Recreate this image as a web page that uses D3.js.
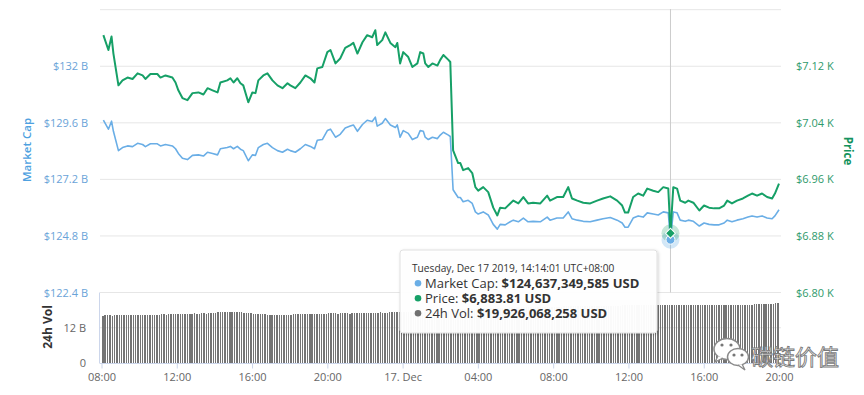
<!DOCTYPE html>
<html>
<head>
<meta charset="utf-8">
<script src="https://cdn.jsdelivr.net/npm/d3@7"></script>
<style>
  body { margin: 0; background: #fff; }
  svg { display: block; font-family: "Open Sans", "DejaVu Sans", sans-serif; }
</style>
</head>
<body>
<div id="chart"></div>
<script>
// minutes after Dec 16 2019, 08:00 (UTC+8)
const mins = [
  6, 22, 32, 38, 54, 67, 83, 99, 115, 131,
  140, 156, 178, 188, 204, 226, 236, 245, 258, 274,
  290, 309, 325, 338, 354, 370, 379, 401, 411, 421,
  433, 443, 452, 468, 481, 491, 500, 516, 529, 545,
  561, 577, 593, 602, 618, 634, 650, 666, 679, 688,
  704, 720, 730, 746, 761, 777, 793, 803, 816, 832,
  847, 863, 873, 879, 895, 905, 921, 937, 943, 952,
  962, 978, 991, 1007, 1016, 1026, 1032, 1042, 1055, 1071,
  1080, 1090, 1106, 1112, 1121, 1137, 1144, 1153, 1169, 1182,
  1192, 1201, 1217, 1233, 1249, 1262, 1271, 1287, 1303, 1313,
  1329, 1345, 1360, 1376, 1399, 1421, 1430, 1452, 1472, 1488,
  1500, 1517, 1536, 1558, 1580, 1599, 1622, 1644, 1660, 1669,
  1679, 1695, 1711, 1727, 1740, 1759, 1775, 1791, 1807, 1814,
  1823, 1835, 1845, 1861, 1871, 1887, 1906, 1921, 1937, 1953,
  1969, 1985, 1995, 2010, 2026, 2045, 2061, 2074, 2090, 2106,
  2122, 2138, 2147, 2160
];

// price, USD
const prices = [
  7164, 7143, 7162, 7138, 7093, 7100, 7104, 7102, 7110, 7107,
  7102, 7109, 7109, 7104, 7107, 7104, 7097, 7086, 7075, 7072,
  7082, 7083, 7080, 7089, 7086, 7083, 7097, 7100, 7103, 7097,
  7103, 7096, 7093, 7069, 7083, 7082, 7100, 7107, 7110, 7100,
  7093, 7089, 7096, 7093, 7089, 7097, 7107, 7103, 7097, 7117,
  7119, 7140, 7143, 7124, 7131, 7146, 7150, 7153, 7138, 7154,
  7164, 7161, 7171, 7150, 7157, 7168, 7153, 7147, 7153, 7124,
  7140, 7133, 7119, 7124, 7140, 7138, 7124, 7119, 7124, 7121,
  7129, 7136, 7129, 7126, 7001, 6983, 6983, 6973, 6976, 6969,
  6949, 6944, 6949, 6942, 6920, 6909, 6920, 6919, 6926, 6930,
  6926, 6935, 6926, 6927, 6926, 6937, 6930, 6935, 6935, 6949,
  6933, 6930, 6927, 6926, 6930, 6933, 6936, 6930, 6923, 6913,
  6913, 6935, 6940, 6937, 6947, 6944, 6942, 6949, 6947, 6883.81,
  6949, 6947, 6930, 6927, 6930, 6927, 6916, 6923, 6920, 6919,
  6919, 6923, 6930, 6926, 6930, 6933, 6937, 6940, 6937, 6940,
  6935, 6933, 6940, 6954
];

// market cap, billion USD
const caps = [
  129.71, 129.33, 129.67, 129.24, 128.42, 128.55, 128.62, 128.59, 128.73, 128.68,
  128.59, 128.71, 128.71, 128.62, 128.68, 128.62, 128.50, 128.30, 128.10, 128.04,
  128.22, 128.24, 128.19, 128.35, 128.30, 128.24, 128.50, 128.55, 128.60, 128.50,
  128.60, 128.48, 128.42, 127.99, 128.24, 128.22, 128.55, 128.68, 128.73, 128.55,
  128.42, 128.35, 128.48, 128.42, 128.35, 128.50, 128.68, 128.60, 128.50, 128.86,
  128.89, 129.27, 129.33, 128.99, 129.11, 129.38, 129.46, 129.51, 129.24, 129.53,
  129.71, 129.66, 129.84, 129.46, 129.58, 129.78, 129.51, 129.40, 129.51, 128.99,
  129.27, 129.15, 128.89, 128.99, 129.27, 129.24, 128.99, 128.89, 128.99, 128.93,
  129.08, 129.20, 129.08, 129.02, 126.76, 126.43, 126.43, 126.25, 126.31, 126.18,
  125.82, 125.73, 125.82, 125.69, 125.29, 125.09, 125.29, 125.27, 125.40, 125.47,
  125.40, 125.56, 125.40, 125.42, 125.40, 125.60, 125.47, 125.56, 125.56, 125.82,
  125.53, 125.47, 125.42, 125.40, 125.47, 125.53, 125.58, 125.47, 125.35, 125.17,
  125.17, 125.56, 125.65, 125.60, 125.78, 125.73, 125.69, 125.82, 125.78, 124.64,
  125.82, 125.78, 125.47, 125.42, 125.47, 125.42, 125.22, 125.35, 125.29, 125.27,
  125.27, 125.35, 125.47, 125.40, 125.47, 125.53, 125.60, 125.65, 125.60, 125.65,
  125.56, 125.53, 125.65, 125.91
];

// 24h volume, billion USD, one bar every 7.5 minutes (12 per row = 90 min)
const volumes = [
  16.1, 16.2, 16.2, 16.2, 16.1, 16.2, 16.2, 16.2, 16.3, 16.2, 16.2, 16.2,
  16.2, 16.3, 16.3, 16.3, 16.5, 16.4, 16.4, 16.5, 16.4, 16.5, 16.5, 16.5,
  16.5, 16.6, 16.6, 16.5, 16.6, 16.6, 16.6, 16.7, 16.6, 16.7, 16.7, 16.7,
  16.8, 16.8, 16.8, 16.9, 16.8, 16.8, 16.9, 16.9, 16.8, 16.9, 17.0, 17.1,
  17.1, 17.2, 17.2, 17.2, 17.2, 17.3, 17.2, 17.2, 17.2, 17.3, 17.2, 17.2,
  17.1, 17.0, 16.9, 16.9, 16.8, 16.8, 16.8, 16.7, 16.7, 16.6, 16.4, 16.3,
  16.2, 16.2, 16.2, 16.2, 16.3, 16.2, 16.4, 16.5, 16.5, 16.6, 16.6, 16.6,
  16.6, 16.6, 16.6, 16.7, 16.6, 16.6, 16.6, 16.7, 16.6, 16.7, 16.7, 16.7,
  16.9, 16.9, 16.9, 16.9, 16.8, 16.9, 16.9, 16.9, 16.9, 16.8, 16.9, 16.9,
  16.9, 16.9, 16.9, 16.9, 16.9, 17.0, 16.9, 16.9, 16.9, 17.1, 17.2, 17.1,
  17.1, 17.1, 17.2, 17.2, 17.3, 17.3, 17.3, 17.3, 17.3, 17.3, 17.4, 17.4,
  17.4, 17.4, 17.5, 17.5, 17.5, 17.5, 17.6, 17.6, 17.6, 17.6, 17.6, 17.7,
  17.7, 17.7, 17.7, 17.8, 17.8, 17.9, 18.1, 18.2, 18.3, 18.3, 18.4, 18.4,
  18.4, 18.5, 18.5, 18.5, 18.6, 18.6, 18.6, 18.6, 18.7, 18.7, 18.7, 18.7,
  18.8, 18.8, 18.8, 18.8, 18.8, 18.9, 18.9, 18.9, 18.9, 18.9, 19.0, 19.0,
  19.0, 19.0, 19.0, 19.1, 19.1, 19.1, 19.1, 19.1, 19.1, 19.2, 19.2, 19.2,
  19.2, 19.2, 19.2, 19.2, 19.3, 19.3, 19.3, 19.3, 19.3, 19.3, 19.3, 19.3,
  19.4, 19.4, 19.4, 19.4, 19.4, 19.4, 19.4, 19.4, 19.5, 19.5, 19.5, 19.5,
  19.5, 19.5, 19.5, 19.5, 19.5, 19.6, 19.6, 19.6, 19.6, 19.6, 19.6, 19.6,
  19.6, 19.6, 19.6, 19.7, 19.7, 19.7, 19.6, 19.6, 19.6, 19.6, 19.6, 19.7,
  19.7, 19.8, 19.9, 19.9, 19.8, 19.7, 19.7, 19.7, 19.7, 19.8, 19.8, 19.8,
  19.8, 19.8, 19.8, 19.8, 19.8, 19.8, 19.8, 19.9, 19.8, 19.8, 19.8, 19.8,
  19.8, 19.8, 19.8, 19.8, 19.8, 19.9, 19.8, 19.8, 19.8, 19.8, 19.8, 19.9,
  19.9, 20.1, 20.1, 20.1, 20.2, 20.2, 20.2, 20.2, 20.2, 20.2, 20.3, 20.3
];
const volStep = 7.5;

const capTicks = [122.4, 124.8, 127.2, 129.6, 132];
const capGrid = [122.4, 124.8, 127.2, 129.6, 132, 134.4];
const priceTicks = [6800, 6880, 6960, 7040, 7120];
const volTicks = [0, 12];
const timeTicks = [0, 240, 480, 720, 960, 1200, 1440, 1680, 1920, 2160];
const timeLabels = ["08:00", "12:00", "16:00", "20:00", "17. Dec", "04:00", "08:00", "12:00", "16:00", "20:00"];

// hovered point
const hoverMin = 1814;
const hoverDate = "Tuesday, Dec 17 2019, 14:14:01 UTC+08:00";
const hoverItems = [
  {name: "Market Cap", value: "$124,637,349,585 USD", color: "#6aaee6"},
  {name: "Price", value: "$6,883.81 USD", color: "#16a067"},
  {name: "24h Vol", value: "$19,926,068,258 USD", color: "#707070"}
];

const W = 864, H = 395;
const blue = "#6aaee6", green = "#16a067", blueText = "#6aa3d8", greenText = "#2f9a6b";

const svg = d3.select("#chart").append("svg")
  .attr("width", W).attr("height", H);

const x = d3.scaleLinear().domain([0, 2160]).range([101.5, 779]);
const yCap = d3.scaleLinear().domain([122.4, 134.4]).range([292.5, 9.7]);
const yPrice = d3.scaleLinear().domain([6800, 7200]).range([292.5, 9.7]);
const yVol = d3.scaleLinear().domain([0, 24]).range([363, 292.5]);

// gridlines
svg.append("g").selectAll("line").data(capGrid).join("line")
  .attr("x1", 100).attr("x2", 781)
  .attr("y1", d => yCap(d)).attr("y2", d => yCap(d))
  .attr("stroke", "#e6e6e6").attr("stroke-width", 1);

svg.append("line")
  .attr("x1", 100).attr("x2", 781)
  .attr("y1", yVol(12)).attr("y2", yVol(12))
  .attr("stroke", "#e6e6e6");

// volume bars
svg.append("g").selectAll("rect").data(volumes).join("rect")
  .attr("x", (d, i) => x(i * volStep) + 0.6)
  .attr("y", d => yVol(d))
  .attr("width", 1.4)
  .attr("height", d => yVol(0) - yVol(d))
  .attr("fill", "#747474")
  .attr("shape-rendering", "crispEdges");

// volume panel axis lines
svg.append("line")
  .attr("x1", 99.5).attr("x2", 99.5).attr("y1", 292.5).attr("y2", 363)
  .attr("stroke", "#ccd6eb");
svg.append("line")
  .attr("x1", 99.5).attr("x2", 781).attr("y1", 363.5).attr("y2", 363.5)
  .attr("stroke", "#ccd6eb");

// crosshair
svg.append("line")
  .attr("x1", x(hoverMin)).attr("x2", x(hoverMin))
  .attr("y1", 9).attr("y2", 292.5)
  .attr("stroke", "#cccccc").attr("stroke-width", 1);

// lines
const series = mins.map((m, i) => ({m: m, price: prices[i], cap: caps[i]}));

svg.append("path")
  .datum(series)
  .attr("fill", "none")
  .attr("stroke", blue)
  .attr("stroke-width", 1.6)
  .attr("stroke-linejoin", "round")
  .attr("d", d3.line().x(d => x(d.m)).y(d => yCap(d.cap)));

svg.append("path")
  .datum(series)
  .attr("fill", "none")
  .attr("stroke", green)
  .attr("stroke-width", 2)
  .attr("stroke-linejoin", "round")
  .attr("d", d3.line().x(d => x(d.m)).y(d => yPrice(d.price)));

// hover markers
const hi = mins.indexOf(hoverMin);
const hx = x(hoverMin);
svg.append("circle").attr("cx", hx).attr("cy", yCap(caps[hi])).attr("r", 9)
  .attr("fill", blue).attr("opacity", 0.3);
svg.append("circle").attr("cx", hx).attr("cy", yPrice(prices[hi])).attr("r", 9)
  .attr("fill", green).attr("opacity", 0.25);
svg.append("circle").attr("cx", hx).attr("cy", yCap(caps[hi])).attr("r", 4.5)
  .attr("fill", blue).attr("stroke", "#fff").attr("stroke-width", 1);
svg.append("path")
  .attr("transform", `translate(${hx},${yPrice(prices[hi])}) rotate(45)`)
  .attr("d", "M-3.5,-3.5H3.5V3.5H-3.5Z")
  .attr("fill", green).attr("stroke", "#fff").attr("stroke-width", 1);

// axes
const axisFont = "11px";

const leftAxis = svg.append("g")
  .attr("transform", "translate(88,0)")
  .call(d3.axisLeft(yCap).tickValues(capTicks).tickSize(0).tickPadding(0)
    .tickFormat(d => "$" + d + " B"));
leftAxis.select(".domain").remove();
leftAxis.selectAll("text").attr("fill", blueText).style("font-size", axisFont)
  .style("font-family", "'Open Sans', sans-serif");

const rightAxis = svg.append("g")
  .attr("transform", "translate(796,0)")
  .call(d3.axisRight(yPrice).tickValues(priceTicks).tickSize(0).tickPadding(0)
    .tickFormat(d => "$" + (d / 1000).toFixed(2) + " K"));
rightAxis.select(".domain").remove();
rightAxis.selectAll("text").attr("fill", greenText).style("font-size", axisFont)
  .style("font-family", "'Open Sans', sans-serif");

const volAxis = svg.append("g")
  .attr("transform", "translate(86,0)")
  .call(d3.axisLeft(yVol).tickValues(volTicks).tickSize(0).tickPadding(0)
    .tickFormat(d => d === 0 ? "0" : d + " B"));
volAxis.select(".domain").remove();
volAxis.selectAll("text").attr("fill", "#666").style("font-size", axisFont)
  .style("font-family", "'Open Sans', sans-serif");

const xAxis = svg.append("g")
  .attr("transform", "translate(0,363.5)")
  .call(d3.axisBottom(x).tickValues(timeTicks).tickSize(5).tickPadding(5)
    .tickFormat((d, i) => timeLabels[i]));
xAxis.select(".domain").remove();
xAxis.selectAll("line").attr("stroke", "#ccd6eb");
xAxis.selectAll("text").attr("fill", "#666").style("font-size", axisFont)
  .style("font-family", "'Open Sans', sans-serif");

// axis titles
svg.append("text")
  .attr("transform", "translate(31,150) rotate(-90)")
  .attr("text-anchor", "middle")
  .attr("fill", "#4ea1e0")
  .style("font-size", "11.5px").style("font-weight", "600")
  .text("Market Cap");

svg.append("text")
  .attr("transform", "translate(844,151) rotate(90)")
  .attr("text-anchor", "middle")
  .attr("fill", "#14935e")
  .style("font-size", "11.5px").style("font-weight", "700")
  .text("Price");

svg.append("text")
  .attr("transform", "translate(52,327) rotate(-90)")
  .attr("text-anchor", "middle")
  .attr("fill", "#333")
  .style("font-size", "12px").style("font-weight", "700")
  .text("24h Vol");

// tooltip
const defs = svg.append("defs");
const flt = defs.append("filter").attr("id", "shadow")
  .attr("x", "-10%").attr("y", "-10%").attr("width", "130%").attr("height", "140%");
flt.append("feDropShadow").attr("dx", 1).attr("dy", 1).attr("stdDeviation", 1.5)
  .attr("flood-color", "#000").attr("flood-opacity", 0.18);

const tip = svg.append("g").attr("transform", "translate(400,250)");
tip.append("rect")
  .attr("width", 257).attr("height", 83)
  .attr("rx", 3)
  .attr("fill", "rgba(255,255,255,0.96)")
  .attr("stroke", "#e0e0e0")
  .attr("filter", "url(#shadow)");
tip.append("text")
  .attr("x", 12).attr("y", 21.5)
  .attr("fill", "#333")
  .style("font-size", "10.2px")
  .text(hoverDate);

hoverItems.forEach((it, i) => {
  const yy = 37.5 + i * 15;
  tip.append("circle").attr("cx", 18).attr("cy", yy - 4.3).attr("r", 3.3).attr("fill", it.color);
  const t = tip.append("text").attr("x", 25).attr("y", yy).attr("fill", "#333")
    .style("font-size", "13px");
  t.append("tspan").text(it.name + ": ");
  t.append("tspan").style("font-weight", "700").text(it.value);
});

// watermark
const wm = svg.append("g");
wm.append("ellipse").attr("cx", 727).attr("cy", 349).attr("rx", 13).attr("ry", 10.5)
  .attr("fill", "#fff").attr("stroke", "#8a8a8a").attr("stroke-width", 1.5);
wm.append("path").attr("d", "M718,356 L715,362 L723,358")
  .attr("fill", "#fff").attr("stroke", "#8a8a8a").attr("stroke-width", 1.3);
wm.append("ellipse").attr("cx", 738).attr("cy", 357).attr("rx", 10.5).attr("ry", 8.5)
  .attr("fill", "#fff").attr("stroke", "#8a8a8a").attr("stroke-width", 1.5);
wm.append("path").attr("d", "M742,364 L745,370 L738,365")
  .attr("fill", "#fff").attr("stroke", "#8a8a8a").attr("stroke-width", 1.3);
[[722, 345], [731, 345], [734, 355], [742, 355]].forEach(p => {
  wm.append("circle").attr("cx", p[0]).attr("cy", p[1]).attr("r", 1.6).attr("fill", "#777");
});
wm.append("text")
  .attr("x", 751).attr("y", 365)
  .attr("fill", "#fff")
  .attr("stroke", "#7a7a7a")
  .attr("stroke-width", 0.9)
  .style("font-family", "'Noto Sans CJK SC', sans-serif")
  .style("font-size", "22px")
  .text("碳链价值");
</script>
</body>
</html>
